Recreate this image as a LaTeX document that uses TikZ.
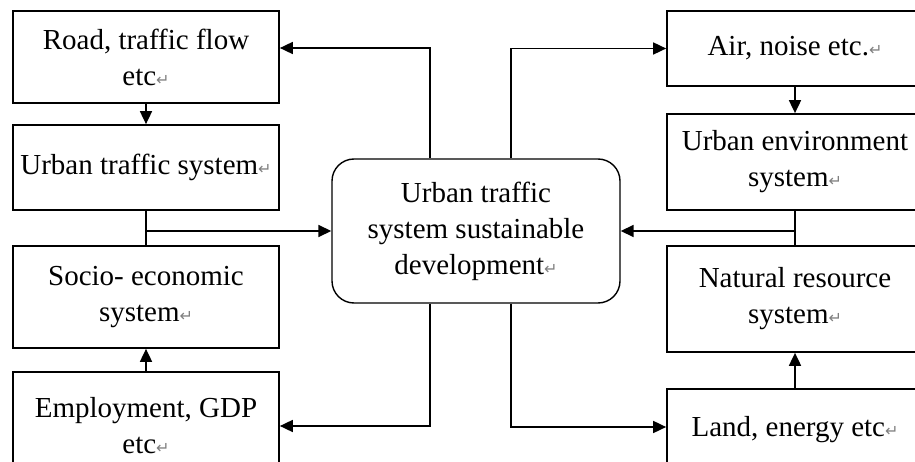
\documentclass[tikz,border=0pt]{standalone}
\usepackage{fontspec}
\setmainfont{Liberation Serif}
\newfontfamily\dejavu{DejaVu Sans}
\usetikzlibrary{arrows.meta}
\newcommand{\pmark}{{\dejavu\fontsize{16}{16}\selectfont\color{gray}↵}}
\tikzset{
  sysbox/.style={draw, line width=1.7pt, align=center, inner sep=2pt},
  hubbox/.style={sysbox, line width=1.4pt, rounded corners=22pt},
  link/.style={line width=1.7pt, -{Triangle[length=13pt,width=12pt]}},
  bare/.style={line width=1.7pt}
}
\begin{document}
\begin{tikzpicture}[x=1pt,y=-1pt,font=\fontsize{29}{36}\selectfont]
\useasboundingbox (0,0) rectangle (915,462);
\clip (0,0) rectangle (915,462);

\node[sysbox,minimum width=266pt,minimum height=92pt] (road) at (146,57) {Road, traffic flow\\etc\pmark};
\node[sysbox,minimum width=266pt,minimum height=85pt] (traffic) at (146,167.5) {Urban traffic system\pmark};
\node[sysbox,minimum width=266pt,minimum height=102pt] (socio) at (146,297) {Socio- economic\\system\pmark};
\node[sysbox,minimum width=266pt,minimum height=108pt] (employ) at (146,426) {Employment, GDP\\etc\pmark};

\node[sysbox,minimum width=256pt,minimum height=75pt] (air) at (795,48.5) {Air, noise etc.\pmark};
\node[sysbox,minimum width=256pt,minimum height=96pt] (env) at (795,162) {Urban environment\\system\pmark};
\node[sysbox,minimum width=256pt,minimum height=106pt] (nature) at (795,299) {Natural resource\\system\pmark};
\node[sysbox,minimum width=256pt,minimum height=82pt] (land) at (795,430) {Land, energy etc\pmark};

\node[hubbox,minimum width=288pt,minimum height=144pt] (hub) at (476,231) {Urban traffic\\system sustainable\\development\pmark};

\draw[link] (road) -- (traffic);
\draw[link] (employ) -- (socio);
\draw[link] (air) -- (env);
\draw[link] (land) -- (nature);

\draw[bare] (traffic) -- (socio);
\draw[bare] (env) -- (nature);
\draw[link] (traffic.south |- hub.west) -- (hub.west);
\draw[link] (env.south |- hub.east) -- (hub.east);

\draw[link] ([xshift=-46pt]hub.north) |- ([yshift=9pt]road.east);
\draw[link] ([xshift=35pt]hub.north) |- (air.west);
\draw[link] ([xshift=-46pt]hub.south) |- (employ.east);
\draw[link] ([xshift=35pt]hub.south) |- ([yshift=3pt]land.west);
\end{tikzpicture}
\end{document}
